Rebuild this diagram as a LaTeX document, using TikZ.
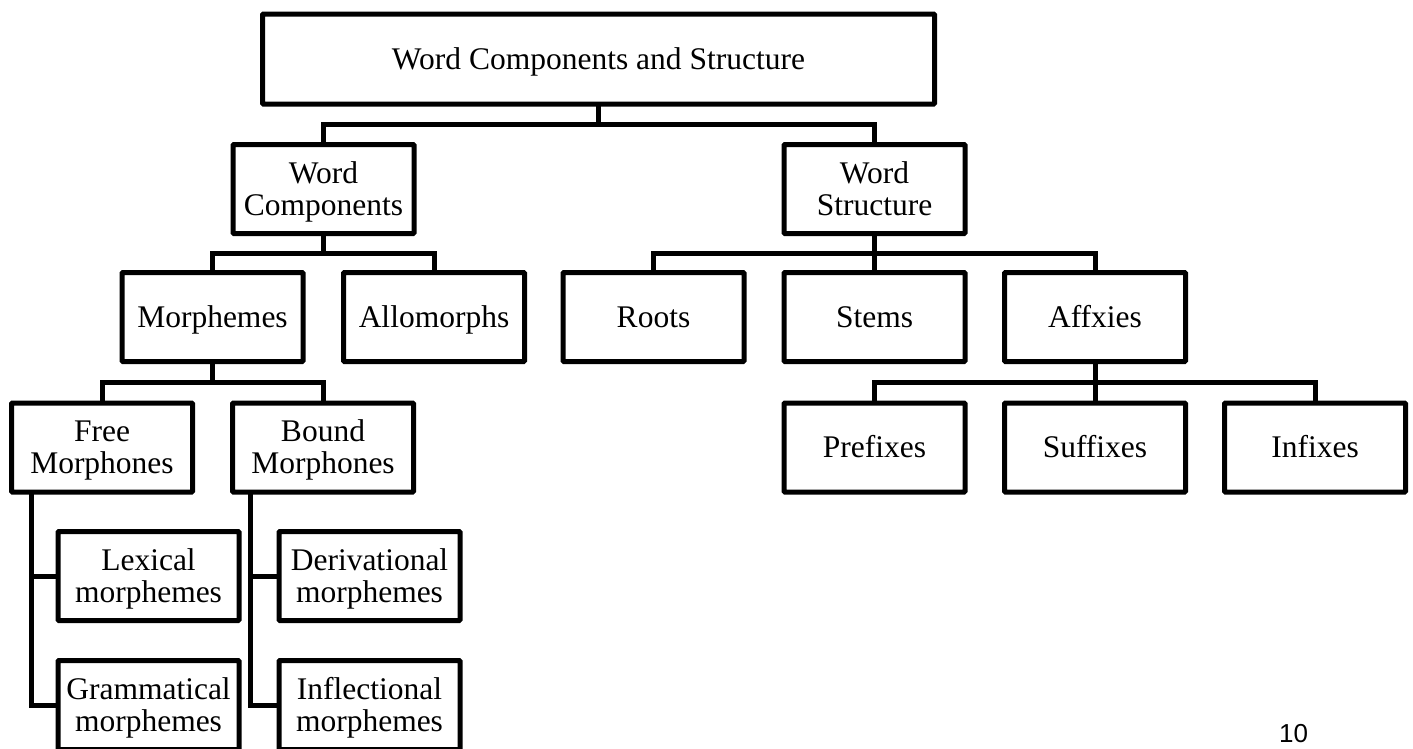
\documentclass[tikz,border=0pt]{standalone}
\usepackage{fontspec}
\setmainfont{Liberation Serif}
\newfontfamily\numfont{Liberation Sans}
\begin{document}
\begin{tikzpicture}[x=1pt,y=-1pt,
  box/.style={draw, line width=5pt, rounded corners=1pt, minimum width=181pt, minimum height=89pt,
    inner sep=0pt, outer sep=0pt, align=center, font=\fontsize{31.5}{32}\selectfont, text depth=0pt},
  one/.style={box, text height=20pt},
  two/.style={box, text height=52pt},
  link/.style={line width=5pt}]
\useasboundingbox (0,0) rectangle (1413,748);
% nodes
\node[one, minimum width=672pt, minimum height=90pt] (top) at (598.5,59) {Word Components and Structure};
\node[two] (wc) at (323.5,189) {Word\\Components};
\node[two] (ws) at (874.5,189) {Word\\Structure};
\node[one] (morph) at (212.5,317) {Morphemes};
\node[one] (allo) at (434,317) {Allomorphs};
\node[one] (roots) at (653.5,317) {Roots};
\node[one] (stems) at (874.5,317) {Stems};
\node[one] (affix) at (1095,317) {Affxies};
\node[two] (free) at (102,447.5) {Free\\Morphones};
\node[two] (bound) at (323,447.5) {Bound\\Morphones};
\node[one] (pre) at (874.5,447.5) {Prefixes};
\node[one] (suf) at (1095,447.5) {Suffixes};
\node[one] (inf) at (1315,447.5) {Infixes};
\node[two] (lex) at (148.5,576) {Lexical\\morphemes};
\node[two] (der) at (369.5,576) {Derivational\\morphemes};
\node[two] (gram) at (148.5,705) {Grammatical\\morphemes};
\node[two] (infl) at (369.5,705) {Inflectional\\morphemes};
\node[font=\numfont\fontsize{26}{26}\selectfont, anchor=base west, inner sep=0pt] (pg) at (1279,742) {10};
% connectors
\draw[link] (top.south) -- ++(0,20) coordinate (j1);
\draw[link] (wc.north) |- (j1) -| (ws.north);
\draw[link] (wc.south) -- ++(0,20) coordinate (j2);
\draw[link] (morph.north) |- (j2) -| (allo.north);
\draw[link] (ws.south) -- ++(0,20) coordinate (j3) -- (stems.north);
\draw[link] (roots.north) |- (j3) -| (affix.north);
\draw[link] (morph.south) -- ++(0,21) coordinate (j4);
\draw[link] (free.north) |- (j4) -| (bound.north);
\draw[link] (affix.south) -- ++(0,21) coordinate (j5) -- (suf.north);
\draw[link] (pre.north) |- (j5) -| (inf.north);
\coordinate (fv) at ([xshift=-71pt]free.south);
\draw[link] (fv) |- (gram.west);
\draw[link] (fv |- lex.west) -- (lex.west);
\coordinate (bv) at ([xshift=-72.5pt]bound.south);
\draw[link] (bv) |- (infl.west);
\draw[link] (bv |- der.west) -- (der.west);
\end{tikzpicture}
\end{document}
